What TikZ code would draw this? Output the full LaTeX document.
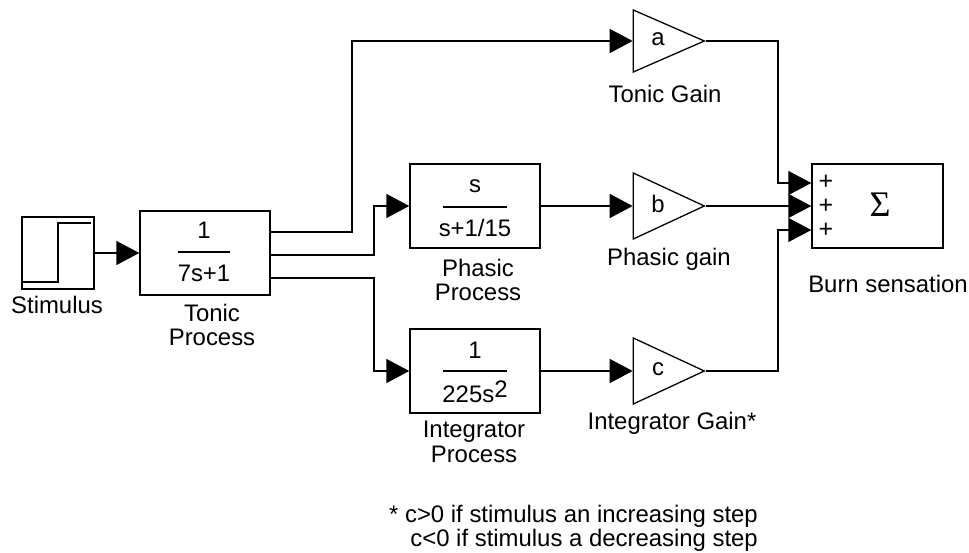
\documentclass[tikz,border=0pt]{standalone}
\usepackage{fontspec}
\setmainfont{Liberation Sans}
\newfontfamily\sigmafont{Liberation Serif}
\usetikzlibrary{positioning,arrows.meta,shapes.geometric}
\tikzset{
block/.style={draw, line width=1.5pt, minimum width=130pt, minimum height=84pt, inner sep=0pt},
gain/.style={draw, line width=1.3pt, isosceles triangle, isosceles triangle stretches, shape border rotate=0, minimum width=66pt, minimum height=71pt, inner sep=0pt},
wire/.style={line width=1.7pt, -{Triangle[length=23pt,width=24pt]}},
txt/.style={inner sep=0pt, font=\fontsize{23.9}{24.4}\selectfont, align=center},
plus/.style={inner sep=0pt, font=\fontsize{25}{25}\selectfont},
bar/.style={line width=1.5pt}
}
\begin{document}
\begin{tikzpicture}[x=1pt,y=-1pt]
	\useasboundingbox (0,0) rectangle (969,553);
	\node[block, minimum width=72pt, minimum height=72pt] (stimulus) at (58,253) {};
	\node[block] (tonic) at (205,253) {};
	\node[block] (phasic) at (475,206) {};
	\node[block] (integrator) at (475,371) {};
	\node[block, minimum width=131pt] (sum) at (877.5,206) {};
	\node[gain, minimum width=62pt, anchor=apex] (gaina) at (706,41) {};
	\node[gain, anchor=apex] (gainb) at (706,206) {};
	\node[gain, anchor=apex] (gainc) at (706,371) {};
	\node[txt] (atext) at (658,39) {a};
	\node[txt] (btext) at (658,204) {b};
	\node[txt] (ctext) at (658,369) {c};

	\draw[line width=1.7pt] (23,282) -- (58,282) -- (58,223) -- (91,223);

	\node[txt] (tonicnum) at (204,230) {1};
	\node[txt] (tonicden) at (204,273) {7s+1};
	\draw[bar] (178,252) -- (230,252);
	\node[txt] (phasicnum) at (475,186) {s};
	\node[txt] (phasicden) at (475,228) {s+1/15};
	\draw[bar] (443,207) -- (507,207);
	\node[txt] (integratornum) at (475,350) {1};
	\node[txt] (integratorden) at (475,392) {225s\raisebox{5pt}{2}};
	\draw[bar] (443,371) -- (507,371);

	\node[txt] (stimuluslabel) at (57,305) {Stimulus};
	\node[txt] (toniclabel) at (212,325) {Tonic\\Process};
	\node[txt] (phasiclabel) at (478,280) {Phasic\\Process};
	\node[txt] (integratorlabel) at (474,442) {Integrator\\Process};
	\node[txt] (gainalabel) at (665,94) {Tonic Gain};
	\node[txt] (gainblabel) at (669,259) {Phasic gain};
	\node[txt] (gainclabel) at (672,423) {Integrator Gain*};
	\node[txt] (sumlabel) at (888,284) {Burn sensation};
	\node[txt, align=right, anchor=north east] (note) at (758,505) {* c>0 if stimulus an increasing step\\c<0 if stimulus a decreasing step};

	\node[plus] (plusa) at (826,182) {+};
	\node[plus] (plusb) at (826,206) {+};
	\node[plus] (plusc) at (826,230) {+};
	\node[inner sep=0pt, font=\sigmafont\fontsize{36}{36}\selectfont] (sigma) at (880,205) {Σ};

	\coordinate (tonicA) at ([yshift=21pt]tonic.east);
	\coordinate (tonicB) at ([yshift=-2pt]tonic.east);
	\coordinate (tonicC) at ([yshift=-25pt]tonic.east);
	\coordinate (sumA) at ([yshift=23pt]sum.west);
	\coordinate (sumC) at ([yshift=-24pt]sum.west);

	\draw[wire] (stimulus.east) -- (tonic.west);
	\draw[wire] (tonicA) -- ++(81,0) |- (gaina.lower side);
	\draw[wire] (tonicB) -- ++(103,0) |- (phasic.west);
	\draw[wire] (tonicC) -- ++(103,0) |- (integrator.west);
	\draw[wire] (phasic.east) -- (gainb.lower side);
	\draw[wire] (integrator.east) -- (gainc.lower side);
	\draw[wire] (gaina.apex) -- ++(72,0) |- (sumA);
	\draw[wire] (gainb.apex) -- (sum.west);
	\draw[wire] (gainc.apex) -- ++(72,0) |- (sumC);
\end{tikzpicture}
\end{document}
